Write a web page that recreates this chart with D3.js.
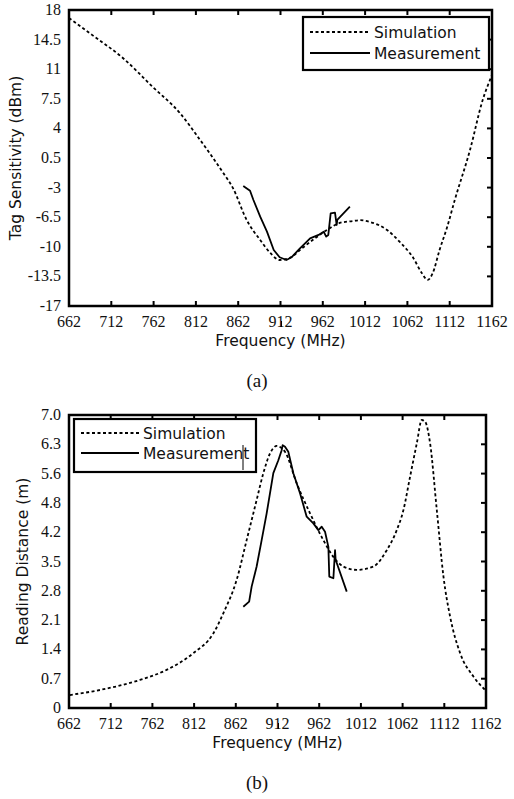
<!DOCTYPE html>
<html>
<head>
<meta charset="utf-8">
<script src="https://cdn.jsdelivr.net/npm/d3@7"></script>
<style>
  body { margin: 0; background: #fff; }
  .tick-lbl { font-family: "Liberation Serif", "Times New Roman", serif; font-size: 16px; fill: #111; }
  .ttl { font-family: "DejaVu Sans", Verdana, sans-serif; font-size: 15.5px; fill: #111; }
  .cap { font-family: "Liberation Serif", serif; font-size: 19px; fill: #111; }
</style>
</head>
<body>
<div id="chart"></div>
<script>
// x axis (both panels)
const freqTicks = [662, 712, 762, 812, 862, 912, 962, 1012, 1062, 1112, 1162];

// (a) tag sensitivity
const sensTicks = [-17, -13.5, -10, -6.5, -3, 0.5, 4, 7.5, 11, 14.5, 18];
const sensSimFreq = [662, 690, 726, 761, 793, 817, 842, 856, 872, 888, 900, 911, 923, 935, 950, 967, 982, 998, 1006, 1018, 1038, 1053, 1069, 1079, 1086, 1092, 1100, 1109, 1118, 1136, 1151, 1162];
const sensSimVal  = [17.05, 15.0, 12.3, 8.9, 5.82, 2.63, -0.92, -3.1, -6.83, -9.2, -10.73, -11.56, -11.32, -10.38, -9.2, -8.01, -7.18, -6.95, -6.85, -7.07, -8.01, -9.43, -11.32, -13.1, -13.92, -13.1, -10.38, -7.66, -4.47, 1.45, 7.36, 10.3];
const sensMeasFreq = [868, 876, 880, 888, 896, 904, 911, 919, 925, 935, 947, 957, 963, 966, 968.5, 971.3, 976.4, 978.4, 979.1, 994];
const sensMeasVal  = [-2.81, -3.37, -4.47, -6.44, -8.21, -10.38, -11.24, -11.56, -11.24, -10.18, -9.0, -8.6, -8.21, -8.8, -8.6, -6.04, -5.96, -7.42, -6.83, -5.26];

// (b) reading distance
const distTicks = [0, 0.7, 1.4, 2.1, 2.8, 3.5, 4.2, 4.9, 5.6, 6.3, 7.0];
const distTickLabels = ["0", "0.7", "1.4", "2.1", "2.8", "3.5", "4.2", "4.8", "5.6", "6.3", "7.0"];
const distSimFreq = [663, 699, 747, 779, 811, 835, 847, 863, 875, 887, 895, 903, 911, 921, 935, 951, 967, 979, 991, 1007, 1027, 1043, 1055, 1063, 1071, 1079, 1085, 1089, 1095, 1103, 1111, 1119, 1131, 1147, 1161];
const distSimVal  = [0.31, 0.43, 0.67, 0.91, 1.31, 1.78, 2.26, 3.06, 4.01, 4.97, 5.61, 6.08, 6.26, 6.12, 5.37, 4.65, 4.01, 3.61, 3.38, 3.30, 3.38, 3.77, 4.25, 4.73, 5.53, 6.32, 6.88, 6.84, 6.32, 4.73, 3.14, 2.18, 1.31, 0.75, 0.43];
const distMeasFreq = [871, 878, 881, 887, 893, 899, 907, 913, 917, 918.2, 921, 925, 931, 939, 947, 955, 961, 965, 969, 973, 974.1, 979, 981, 981.7, 995];
const distMeasVal  = [2.42, 2.54, 2.90, 3.38, 4.01, 4.65, 5.61, 5.92, 6.16, 6.28, 6.24, 6.12, 5.61, 5.13, 4.57, 4.41, 4.25, 4.33, 4.21, 3.85, 3.14, 3.10, 3.77, 3.54, 2.78];

const svg = d3.select("#chart").append("svg")
  .attr("width", 514)
  .attr("height", 799);

function drawPanel(cfg) {
  const g = svg.append("g");
  const x = d3.scaleLinear().domain([662, 1162]).range([cfg.left, cfg.right]);
  const y = d3.scaleLinear().domain(cfg.yDomain).range([cfg.bottom, cfg.top]);

  // inward ticks on bottom, top and right
  freqTicks.slice(1, -1).forEach(t => {
    g.append("line").attr("x1", x(t)).attr("x2", x(t)).attr("y1", cfg.bottom).attr("y2", cfg.bottom - 5)
      .attr("stroke", "#000").attr("stroke-width", 2);
    g.append("line").attr("x1", x(t)).attr("x2", x(t)).attr("y1", cfg.top).attr("y2", cfg.top + 5)
      .attr("stroke", "#000").attr("stroke-width", 2);
  });
  cfg.yTicks.slice(1, -1).forEach(t => {
    g.append("line").attr("x1", cfg.right).attr("x2", cfg.right - 5).attr("y1", y(t)).attr("y2", y(t))
      .attr("stroke", "#000").attr("stroke-width", 2);
  });

  // tick labels
  g.selectAll(".xl").data(freqTicks).enter().append("text")
    .attr("class", "tick-lbl")
    .attr("x", d => x(d)).attr("y", cfg.bottom + 21)
    .attr("text-anchor", "middle")
    .text(d => d);
  // stray mark under 912
  g.append("line").attr("x1", x(912) + 1).attr("x2", x(912) + 1)
    .attr("y1", cfg.bottom + 15).attr("y2", cfg.bottom + 21)
    .attr("stroke", "#000").attr("stroke-width", 1);

  g.selectAll(".yl").data(cfg.yTicks).enter().append("text")
    .attr("class", "tick-lbl")
    .attr("x", cfg.left - 8).attr("y", d => y(d) + 5)
    .attr("text-anchor", "end")
    .text((d, i) => cfg.yLabels[i]);

  // curves
  const sim = cfg.simF.map((f, i) => [f, cfg.simV[i]]);
  const meas = cfg.measF.map((f, i) => [f, cfg.measV[i]]);
  g.append("path")
    .attr("d", d3.line().x(d => x(d[0])).y(d => y(d[1])).curve(d3.curveMonotoneX)(sim))
    .attr("fill", "none").attr("stroke", "#000").attr("stroke-width", 1.8)
    .attr("stroke-dasharray", "3,2.5");
  g.append("path")
    .attr("d", d3.line().x(d => x(d[0])).y(d => y(d[1])).curve(d3.curveLinear)(meas))
    .attr("fill", "none").attr("stroke", "#000").attr("stroke-width", 1.8)
    .attr("stroke-linejoin", "round");

  // frame
  g.append("rect")
    .attr("x", cfg.left).attr("y", cfg.top)
    .attr("width", cfg.right - cfg.left).attr("height", cfg.bottom - cfg.top)
    .attr("fill", "none").attr("stroke", "#000").attr("stroke-width", 2.5);

  // legend
  const L = cfg.legend;
  g.append("rect").attr("x", L.x).attr("y", L.y).attr("width", L.w).attr("height", L.h)
    .attr("fill", "#fff").attr("stroke", "#000").attr("stroke-width", 2.2);
  g.append("line").attr("x1", L.lx1).attr("x2", L.lx2).attr("y1", L.y1).attr("y2", L.y1)
    .attr("stroke", "#000").attr("stroke-width", 1.8).attr("stroke-dasharray", "3,2.5");
  g.append("line").attr("x1", L.lx1).attr("x2", L.lx2).attr("y1", L.y2).attr("y2", L.y2)
    .attr("stroke", "#000").attr("stroke-width", 1.8);
  g.append("text").attr("class", "ttl").attr("x", L.tx).attr("y", L.y1 + 6).text("Simulation");
  g.append("text").attr("class", "ttl").attr("x", L.tx).attr("y", L.y2 + 6).text("Measurement");
  if (L.cursor) {
    g.append("line").attr("x1", L.cursor).attr("x2", L.cursor).attr("y1", L.y2 - 8).attr("y2", L.y2 + 17)
      .attr("stroke", "#000").attr("stroke-width", 1);
  }

  // axis titles and caption
  g.append("text").attr("class", "ttl")
    .attr("x", (cfg.left + cfg.right) / 2).attr("y", cfg.bottom + 40)
    .attr("text-anchor", "middle").text("Frequency (MHz)");
  g.append("text").attr("class", "ttl")
    .attr("transform", `translate(${cfg.yTitleX},${(cfg.top + cfg.bottom) / 2}) rotate(-90)`)
    .attr("text-anchor", "middle").text(cfg.yTitle);
  g.append("text").attr("class", "cap")
    .attr("x", 257).attr("y", cfg.bottom + 81)
    .attr("text-anchor", "middle").text(cfg.caption);
}

drawPanel({
  left: 69, right: 492, top: 10, bottom: 306,
  yDomain: [-17, 18], yTicks: sensTicks, yLabels: sensTicks.map(String),
  simF: sensSimFreq, simV: sensSimVal, measF: sensMeasFreq, measV: sensMeasVal,
  yTitle: "Tag Sensitivity (dBm)", yTitleX: 21, caption: "(a)",
  legend: { x: 303, y: 17, w: 186, h: 53, lx1: 310, lx2: 370, y1: 32, y2: 53, tx: 374 }
});

drawPanel({
  left: 69, right: 486, top: 415, bottom: 708,
  yDomain: [0, 7], yTicks: distTicks, yLabels: distTickLabels,
  simF: distSimFreq, simV: distSimVal, measF: distMeasFreq, measV: distMeasVal,
  yTitle: "Reading Distance (m)", yTitleX: 28, caption: "(b)",
  legend: { x: 74, y: 419, w: 182, h: 53, lx1: 81, lx2: 139, y1: 433, y2: 453, tx: 143, cursor: 243 }
});
</script>
</body>
</html>
